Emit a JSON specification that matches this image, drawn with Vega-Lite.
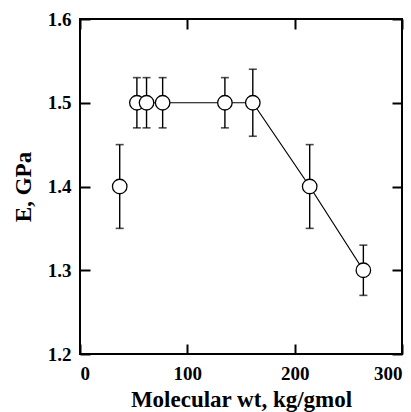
{
  "$schema": "https://vega.github.io/schema/vega-lite/v6.json",
  "autosize": "none",
  "padding": {"left": 80, "top": 19, "right": 9, "bottom": 58},
  "width": 322,
  "height": 335,
  "background": "white",
  "config": {
    "view": {"stroke": "black", "strokeWidth": 2},
    "axis": {
      "grid": false, "labelFont": "Liberation Serif", "labelFontWeight": "bold", "labelFontSize": 19,
      "labelColor": "black", "titleFont": "Liberation Serif", "titleFontWeight": "bold",
      "titleFontSize": 23, "titleColor": "black"
    }
  },
  "data": {"values": [
    {"mw": 37, "E": 1.40, "lo": 1.35, "hi": 1.45, "connected": false},
    {"mw": 53, "E": 1.50, "lo": 1.47, "hi": 1.53, "connected": true},
    {"mw": 62, "E": 1.50, "lo": 1.47, "hi": 1.53, "connected": true},
    {"mw": 77, "E": 1.50, "lo": 1.47, "hi": 1.53, "connected": true},
    {"mw": 135, "E": 1.50, "lo": 1.47, "hi": 1.53, "connected": true},
    {"mw": 161, "E": 1.50, "lo": 1.46, "hi": 1.54, "connected": true},
    {"mw": 214, "E": 1.40, "lo": 1.35, "hi": 1.45, "connected": true},
    {"mw": 264, "E": 1.30, "lo": 1.27, "hi": 1.33, "connected": true}
  ]},
  "resolve": {"axis": {"x": "independent", "y": "independent"}},
  "layer": [
    {
      "mark": {"type": "rule", "color": "black", "strokeWidth": 1.4},
      "encoding": {
        "x": {"field": "mw", "type": "quantitative", "scale": {"domain": [0, 300], "nice": false},
          "axis": {"orient": "bottom", "values": [0, 100, 200, 300], "domain": false,
            "tickSize": -10, "tickWidth": 2, "tickColor": "black", "labelPadding": 20,
            "title": "Molecular wt, kg/gmol", "titlePadding": 5}},
        "y": {"field": "lo", "type": "quantitative", "scale": {"domain": [1.2, 1.6], "nice": false, "zero": false},
          "axis": {"orient": "left", "values": [1.2, 1.3, 1.4, 1.5, 1.6], "format": ".1f", "domain": false,
            "tickSize": -10, "tickWidth": 2, "tickColor": "black",
            "labelPadding": 19, "title": "E, GPa", "titlePadding": 12}},
        "y2": {"field": "hi"}
      }
    },
    {
      "mark": {"type": "tick", "orient": "horizontal", "color": "black", "thickness": 1.6, "size": 8},
      "encoding": {
        "x": {"field": "mw", "type": "quantitative",
          "axis": {"orient": "top", "values": [0, 100, 200, 300],
            "tickSize": -10, "tickWidth": 2, "tickColor": "black", "labels": false, "title": null, "domain": false}},
        "y": {"field": "lo", "type": "quantitative",
          "axis": {"orient": "right", "values": [1.2, 1.3, 1.4, 1.5, 1.6],
            "tickSize": -10, "tickWidth": 2, "tickColor": "black", "labels": false, "title": null, "domain": false}}
      }
    },
    {
      "mark": {"type": "tick", "orient": "horizontal", "color": "black", "thickness": 1.6, "size": 8},
      "encoding": {
        "x": {"field": "mw", "type": "quantitative", "axis": null},
        "y": {"field": "hi", "type": "quantitative", "axis": null}
      }
    },
    {
      "transform": [{"filter": "datum.connected"}],
      "mark": {"type": "line", "color": "black", "strokeWidth": 1.2},
      "encoding": {
        "x": {"field": "mw", "type": "quantitative", "axis": null},
        "y": {"field": "E", "type": "quantitative", "axis": null}
      }
    },
    {
      "mark": {"type": "point", "shape": "circle", "size": 210, "filled": false, "fill": "white", "fillOpacity": 1, "stroke": "black", "strokeWidth": 1.3, "opacity": 1},
      "encoding": {
        "x": {"field": "mw", "type": "quantitative", "axis": null},
        "y": {"field": "E", "type": "quantitative", "axis": null}
      }
    }
  ]
}
